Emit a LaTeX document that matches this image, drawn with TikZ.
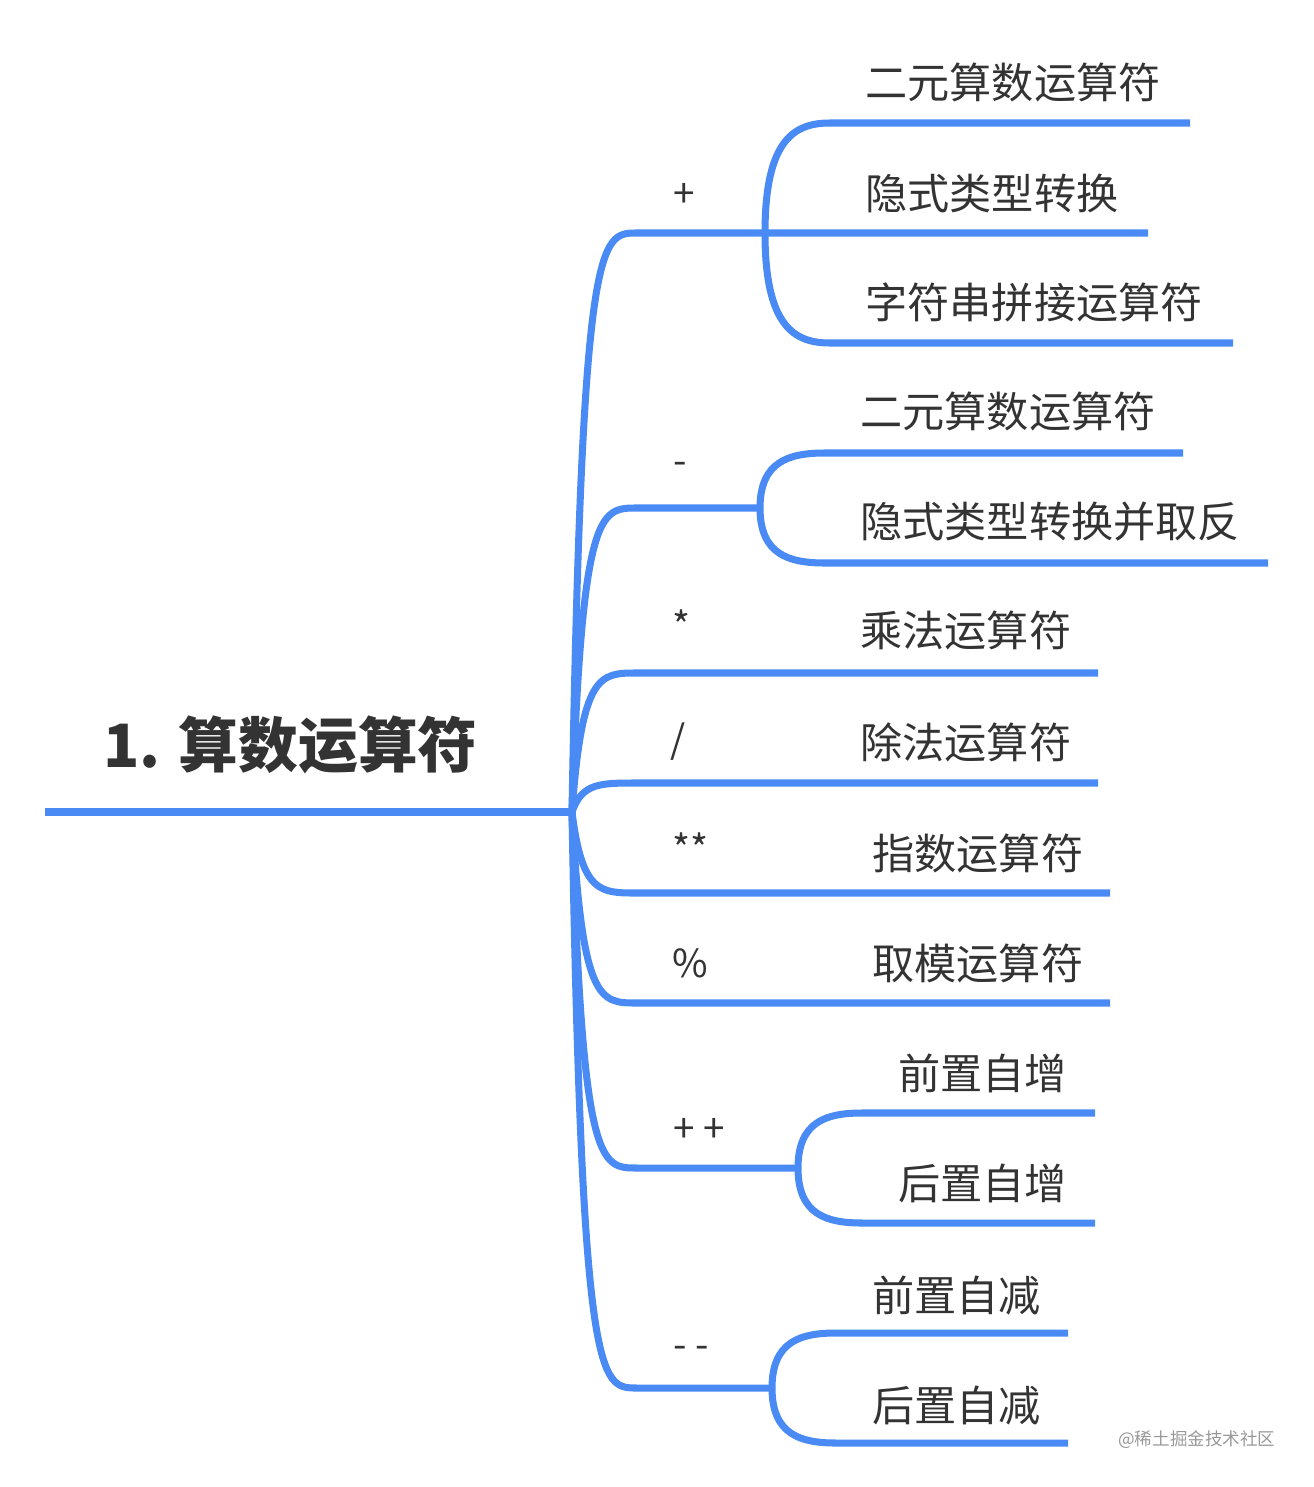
\documentclass[tikz,border=0pt]{standalone}
\usepackage{fontspec}
\setmainfont{Noto Sans CJK SC}
\usepackage{tikz}
\usetikzlibrary{positioning, calc}
\definecolor{mapblue}{HTML}{4A8AF4}
\definecolor{mapgray}{HTML}{333333}
\tikzset{
  branch/.style={draw=mapblue, line width=4pt},
  leaf/.style={anchor=west, inner sep=0pt, text=mapgray, font=\fontsize{24}{24}\selectfont},
  opsign/.style={anchor=west, inner sep=0pt, text=mapgray, font=\fontsize{22}{22}\selectfont},
}
\begin{document}
\begin{tikzpicture}[x=0.02cm, y=-0.02cm]
            \useasboundingbox (0,0) rectangle (1314,1487);
            % root
            \coordinate (start) at (45,812);
            \coordinate (hub) at (572,812);
            \draw [branch] (start) -- (hub);
            \node [anchor=west, inner sep=0pt, text=mapgray, font=\fontsize{34}{34}\selectfont\bfseries] (title) at (103,745) {1. 算数运算符};
            % first level: name / y / end of line
            \foreach \name/\y/\xe in {plus/233/765, minus/508/760, mul/673/1098, div/783/1098,
                                      pow/893/1110, mod/1003/1110, inc/1168/798, dec/1388/772} {
              \coordinate (\name) at (637,\y);
              \coordinate (\name-end) at (\xe,\y);
              \draw [branch] (hub) .. controls (582,\y) and (600,\y) .. (\name) -- (\name-end);
            }
            % second level
            \foreach \parent/\name/\y/\xs/\xe in {plus/plusA/123/830/1190, plus/plusB/233/830/1148, plus/plusC/343/830/1233,
                                              minus/minusA/453/825/1183, minus/minusB/563/825/1268,
                                              inc/incA/1113/862/1095, inc/incB/1223/862/1095,
                                              dec/decA/1333/836/1068, dec/decB/1443/836/1068} {
              \coordinate (\name) at (\xs,\y);
              \coordinate (\name-end) at (\xe,\y);
              \draw [branch] (\parent-end) .. controls ($(\parent-end)!0.85!(\parent-end|-\name)$) and ($(\parent-end|-\name)!0.45!(\name)$) .. (\name) -- (\name-end);
            }
            % operator signs
            \node [opsign] (s-plus) at (673,195) {+};
            \node [opsign] (s-minus) at (673,468) {-};
            \node [opsign] (s-mul) at (672,625) {*};
            \node [opsign] (s-div) at (670,742) {/};
            \node [opsign] (s-pow) at (672,848) {**};
            \node [opsign] (s-mod) at (672,963) {\%};
            \node [opsign] (s-inc) at (673,1130) {+ +};
            \node [opsign] (s-dec) at (673,1352) {- -};
            % leaves
            \node [leaf] (t-plusA) at (865,82) {二元算数运算符};
            \node [leaf] (t-plusB) at (865,193) {隐式类型转换};
            \node [leaf] (t-plusC) at (865,302) {字符串拼接运算符};
            \node [leaf] (t-minusA) at (860,411) {二元算数运算符};
            \node [leaf] (t-minusB) at (860,522) {隐式类型转换并取反};
            \node [leaf] (t-mul) at (860,630) {乘法运算符};
            \node [leaf] (t-div) at (860,742) {除法运算符};
            \node [leaf] (t-pow) at (872,853) {指数运算符};
            \node [leaf] (t-mod) at (872,963) {取模运算符};
            \node [leaf] (t-incA) at (898,1073) {前置自增};
            \node [leaf] (t-incB) at (898,1183) {后置自增};
            \node [leaf] (t-decA) at (872,1295) {前置自减};
            \node [leaf] (t-decB) at (872,1406) {后置自减};
            \node [anchor=west, inner sep=0pt, text=black!40, font=\fontsize{10}{10}\selectfont] (mark) at (1118,1440) {@稀土掘金技术社区};
\end{tikzpicture}
\end{document}
